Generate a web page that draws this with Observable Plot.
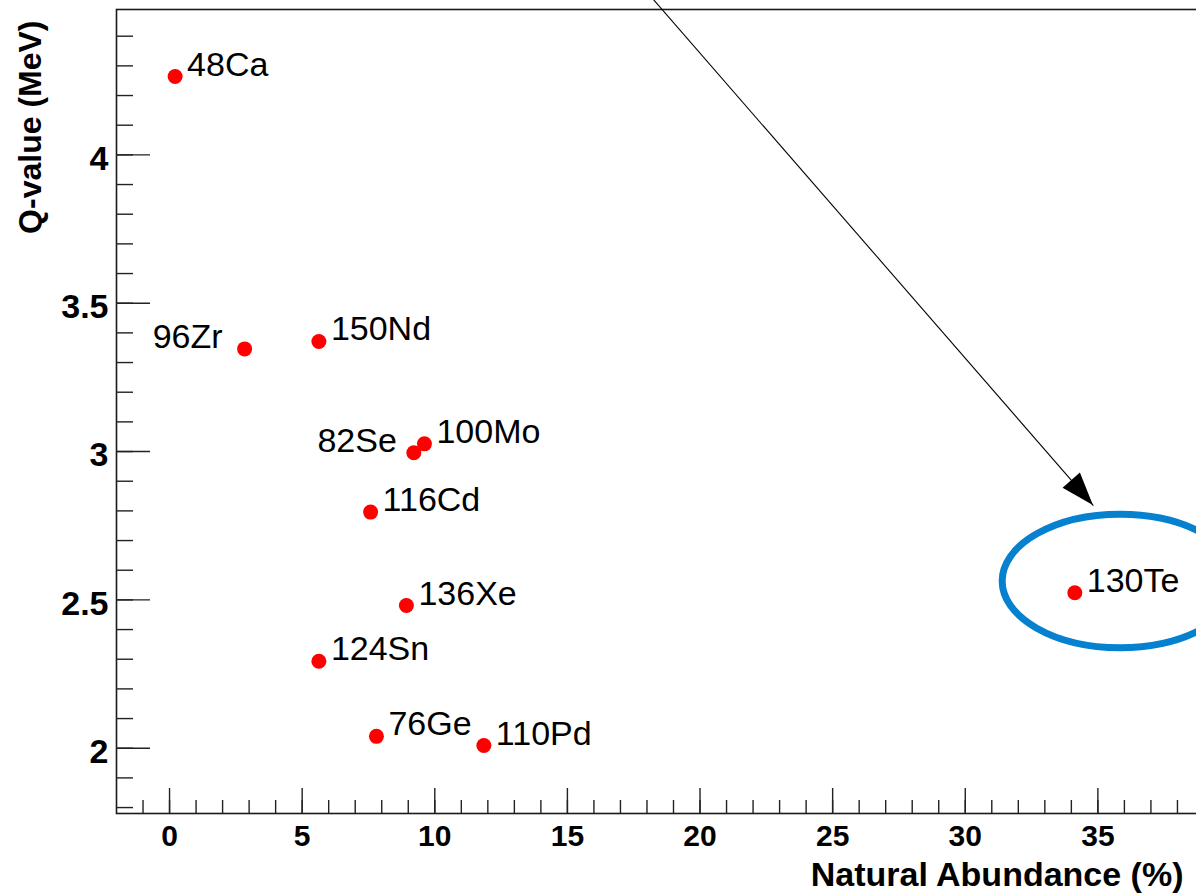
<!DOCTYPE html>
<html><head><meta charset="utf-8">
<script src="https://cdn.jsdelivr.net/npm/d3@7"></script>
<script src="https://cdn.jsdelivr.net/npm/@observablehq/plot@0.6"></script>
<style>
html,body{margin:0;padding:0;background:#fff;overflow:hidden;}
#chart svg{max-width:none !important;display:block;}
</style></head><body><div id="chart"></div>
<script>
// ---- data ----
const isotopes  = ["48Ca","96Zr","150Nd","82Se","100Mo","116Cd","136Xe","124Sn","76Ge","110Pd","130Te"];
const abundance = [0.21, 2.83, 5.63, 9.21, 9.61, 7.58, 8.93, 5.63, 7.80, 11.85, 34.13]; // %
const qValue    = [4.264, 3.346, 3.371, 2.996, 3.026, 2.796, 2.481, 2.293, 2.040, 2.009, 2.524]; // MeV
const leftLabelDx = {"96Zr": -22, "82Se": -17};   // labels drawn to the left of their point

const xMajorTicks = [0, 5, 10, 15, 20, 25, 30, 35, 40];
const xTickLabels = [0, 5, 10, 15, 20, 25, 30, 35];
const xMinorTicks = d3.range(-1, 40, 1);
const yMajorTicks = [2, 2.5, 3, 3.5, 4];
const yTickLabels = ["2", "2.5", "3", "3.5", "4"];
const yMinorTicks = d3.range(18, 45).map(d => d / 10);

const xTitle = "Natural Abundance (%)";
const yTitle = "Q-value (MeV)";

// annotation: arrow from above the frame to the highlighted isotope, and ellipse round it
const arrowFrom = {x: 17.5, y: 4.6};
const arrowTo   = {x: 34.83, y: 2.818};
const highlight = {cx: 35.86, cy: 2.562, rx: 4.45, ry: 0.225};

const rows = isotopes.map((name, i) => ({name, abundance: abundance[i], q: qValue[i]}));
const rightRows = rows.filter(d => !(d.name in leftLabelDx));

const FONT = "'Liberation Sans', Arial, Helvetica, sans-serif";
const SVGNS = "http://www.w3.org/2000/svg";

const ellipseMark = (index, {x, y}) => {
  const e = document.createElementNS(SVGNS, "ellipse");
  e.setAttribute("cx", x(highlight.cx));
  e.setAttribute("cy", y(highlight.cy));
  e.setAttribute("rx", Math.abs(x(highlight.cx + highlight.rx) - x(highlight.cx)));
  e.setAttribute("ry", Math.abs(y(highlight.cy + highlight.ry) - y(highlight.cy)));
  e.setAttribute("fill", "none");
  e.setAttribute("stroke", "#0681cf");
  e.setAttribute("stroke-width", 7);
  return e;
};

const arrowHeadMark = (index, {x, y}) => {
  const x0 = x(arrowFrom.x), y0 = y(arrowFrom.y);
  const x1 = x(arrowTo.x), y1 = y(arrowTo.y);
  const L = Math.hypot(x1 - x0, y1 - y0);
  const ux = (x1 - x0) / L, uy = (y1 - y0) / L;
  const len = 33, hw = 11.5;
  const bx = x1 - ux * len, by = y1 - uy * len;
  const p = document.createElementNS(SVGNS, "polygon");
  p.setAttribute("points", `${x1},${y1} ${bx - uy * hw},${by + ux * hw} ${bx + uy * hw},${by - ux * hw}`);
  p.setAttribute("fill", "#000");
  return p;
};

const chart = Plot.plot({
  width: 1230,
  height: 893,
  marginLeft: 116,
  marginRight: 0,
  marginTop: 9,
  marginBottom: 80,
  style: {fontFamily: FONT, background: "#fff", color: "#000", overflow: "visible"},
  x: {domain: [-2, 40], label: null},
  y: {domain: [1.78, 4.49], label: null},
  marks: [
    Plot.frame({stroke: "#1a1a1a", strokeWidth: 1.6}),
    // inward ticks
    Plot.axisX({ticks: xMinorTicks, tickSize: -13, text: null, label: null, stroke: "#222", strokeWidth: 1.4}),
    Plot.axisX({ticks: xMajorTicks, tickSize: -25, text: null, label: null, stroke: "#222", strokeWidth: 1.4}),
    Plot.axisX({ticks: xTickLabels, tickSize: 0, tickPadding: 11, fontSize: 30, fontWeight: "bold", label: null, tickFormat: d => String(d)}),
    Plot.axisY({ticks: yMinorTicks, tickSize: -17, text: null, label: null, stroke: "#222", strokeWidth: 1.4}),
    Plot.axisY({ticks: yMajorTicks, tickSize: -34, text: null, label: null, stroke: "#222", strokeWidth: 1.4}),
    Plot.axisY({ticks: yMajorTicks, tickSize: 0, tickPadding: 8, fontSize: 34, fontWeight: "bold", dy: 4, label: null,
                tickFormat: d => yTickLabels[yMajorTicks.indexOf(d)]}),
    // axis titles
    Plot.text([xTitle], {frameAnchor: "bottom-right", text: d => d, textAnchor: "end", lineAnchor: "bottom",
                         dx: -47, dy: 72, fontSize: 34, fontWeight: "bold"}),
    Plot.text([yTitle], {frameAnchor: "top-left", text: d => d, rotate: -90, textAnchor: "end", lineAnchor: "middle",
                         dx: -86, dy: 11, fontSize: 32, fontWeight: "bold"}),
    // annotation
    Plot.link([0], {x1: () => arrowFrom.x, y1: () => arrowFrom.y, x2: () => arrowTo.x, y2: () => arrowTo.y,
                    stroke: "#000", strokeWidth: 1.1}),
    arrowHeadMark,
    ellipseMark,
    // data points
    Plot.dot(rows, {x: "abundance", y: "q", r: 7.5, fill: "#ff0000", stroke: null}),
    Plot.text(rightRows, {x: "abundance", y: "q", text: "name", textAnchor: "start", lineAnchor: "bottom",
                          dx: 12, dy: -1, fontSize: 34, fill: "#000"}),
    ...Object.entries(leftLabelDx).map(([name, dx]) =>
      Plot.text(rows.filter(d => d.name === name), {x: "abundance", y: "q", text: "name", textAnchor: "end",
                          lineAnchor: "bottom", dx, dy: -1, fontSize: 34, fill: "#000"}))
  ]
});
document.getElementById("chart").appendChild(chart);
</script></body></html>
